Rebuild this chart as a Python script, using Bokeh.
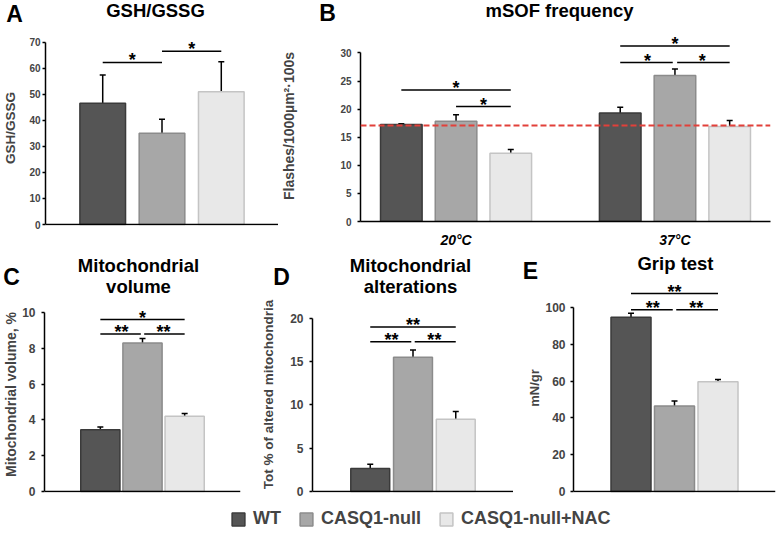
import math
from bokeh.plotting import figure
from bokeh.models import (FactorRange, Range1d, Whisker, TeeHead, Span,
                          Legend, LegendItem, ColumnDataSource, FixedTicker)
from bokeh.layouts import row, column
from bokeh.embed import file_html
from bokeh.resources import INLINE
from bokeh.core.properties import value

FONT = "Liberation Sans"

# ---------------- data ----------------
groups = ["WT", "CASQ1-null", "CASQ1-null+NAC"]
fill_colors = ["#555555", "#a7a7a7", "#e8e8e8"]
edge_colors = ["#3a3a3a", "#8b8b8b", "#c4c4c4"]

# A
gsh_letter = "A"
gsh_title = ["GSH/GSSG"]
gsh_ylabel = "GSH/GSSG"
gsh_mean = [46.6, 35.1, 51.0]
gsh_err = [10.9, 5.4, 11.6]
gsh_ticks = [0, 10, 20, 30, 40, 50, 60, 70]
gsh_sig = [("WT", "CASQ1-null", 62.3, "*"),
           ("CASQ1-null", "CASQ1-null+NAC", 66.6, "*")]

# B
msof_letter = "B"
msof_title = ["mSOF frequency"]
msof_ylabel = "Flashes/1000µm²·100s"
temps = ["20°C", "37°C"]
msof_20_mean = [17.25, 17.85, 12.15]
msof_20_err = [0.15, 1.15, 0.65]
msof_37_mean = [19.3, 26.0, 16.9]
msof_37_err = [1.05, 1.15, 1.1]
msof_ticks = [0, 5, 10, 15, 20, 25, 30]
msof_reference = 17.1
msof_sig = [("20°C", "WT", "CASQ1-null+NAC", 23.4, "*"),
            ("20°C", "CASQ1-null", "CASQ1-null+NAC", 20.45, "*"),
            ("37°C", "WT", "CASQ1-null+NAC", 31.25, "*"),
            ("37°C", "WT", "CASQ1-null", 28.3, "*"),
            ("37°C", "CASQ1-null", "CASQ1-null+NAC", 28.3, "*")]

# C
vol_letter = "C"
vol_title = ["Mitochondrial", "volume"]
vol_ylabel = "Mitochondrial volume, %"
vol_mean = [3.45, 8.3, 4.2]
vol_err = [0.15, 0.25, 0.15]
vol_ticks = [0, 2, 4, 6, 8, 10]
vol_sig = [("WT", "CASQ1-null+NAC", 9.6, "*"),
           ("WT", "CASQ1-null", 8.8, "**"),
           ("CASQ1-null", "CASQ1-null+NAC", 8.8, "**")]

# D
alt_letter = "D"
alt_title = ["Mitochondrial", "alterations"]
alt_ylabel = "Tot % of altered mitochondria"
alt_mean = [2.65, 15.5, 8.35]
alt_err = [0.5, 0.85, 0.9]
alt_ticks = [0, 5, 10, 15, 20]
alt_sig = [("WT", "CASQ1-null+NAC", 19.0, "**"),
           ("WT", "CASQ1-null", 17.3, "**"),
           ("CASQ1-null", "CASQ1-null+NAC", 17.3, "**")]

# E
grip_letter = "E"
grip_title = ["Grip test"]
grip_ylabel = "mN/gr"
grip_mean = [94.6, 46.5, 59.6]
grip_err = [2.2, 2.7, 1.3]
grip_ticks = [0, 20, 40, 60, 80, 100]
grip_sig = [("WT", "CASQ1-null+NAC", 107.5, "**"),
            ("WT", "CASQ1-null", 98.7, "**"),
            ("CASQ1-null", "CASQ1-null+NAC", 98.7, "**")]

# dodge of each genotype inside a temperature group (panel B)
B_DODGE = 0.25


# ---------------- helpers ----------------
def make_fig(width, height, borders, x_range, y_end, plain_x=True):
    left, right, top, bottom = borders
    frame_h = height - top - bottom
    # one pixel below zero so that the baseline is not clipped
    y_start = -y_end / frame_h if plain_x else 0
    kw = dict(x_axis_location=None) if plain_x else {}
    p = figure(width=width, height=height, x_range=x_range,
               y_range=Range1d(y_start, y_end), output_backend="svg",
               toolbar_location=None, min_border_left=left,
               min_border_right=right, min_border_top=top,
               min_border_bottom=bottom, **kw)
    p.outline_line_color = None
    p.xgrid.visible = False
    p.ygrid.visible = False
    p.background_fill_color = "white"
    p.border_fill_color = "white"
    if plain_x:
        # bare x axis line (the figure shows no category labels)
        p.add_layout(Span(location=0, dimension="width", line_color="black",
                          line_width=1.5))
    return p


def style_yaxis(p, ticks, ylabel, tick_size, label_size, tick_standoff,
                label_standoff):
    ya = p.yaxis[0]
    ya.ticker = FixedTicker(ticks=ticks)
    ya.bounds = (ticks[0], ticks[-1])
    ya.axis_label = ylabel
    ya.axis_label_text_font = FONT
    ya.axis_label_text_font_style = "bold"
    ya.axis_label_text_font_size = label_size
    ya.axis_label_standoff = label_standoff
    ya.major_label_text_font = FONT
    ya.major_label_text_font_style = "bold"
    ya.major_label_text_font_size = tick_size
    ya.major_label_standoff = tick_standoff
    ya.major_tick_out = 3
    ya.major_tick_in = 0
    ya.minor_tick_line_color = None
    ya.axis_line_width = 1.5
    ya.major_tick_line_width = 1.5
    ya.axis_line_color = "black"


def draw_bars(p, xs, means, errs, width, fills, edges):
    src = ColumnDataSource(dict(
        x=xs, top=means, upper=[m + e for m, e in zip(means, errs)],
        fill=fills, edge=edges))
    p.vbar(x="x", top="top", bottom=0, width=width, source=src,
           fill_color="fill", line_color="edge", line_width=1.5)
    p.add_layout(Whisker(source=src, base="x", upper="upper", lower="top",
                         line_width=1.5, line_color="black", lower_head=None,
                         upper_head=TeeHead(size=6, line_width=1.5,
                                            line_color="black")))


def simple_coord(idx):
    k = min(int(round(idx)), len(groups) - 1)
    return (groups[k], idx - k)


def temp_coord(temp):
    return lambda idx: (temp, (idx - 1) * B_DODGE)


def draw_sig(p, entries, trim=0.04):
    # entries: (coord_fn, key, g0, g1, level, label)
    x0s, x1s, ys, tx, tt = [], [], [], [], []
    for fn, key, g0, g1, lvl, lab in entries:
        i0, i1 = groups.index(g0), groups.index(g1)
        t0 = any(o[1] == key and o[3] == g0 and o[4] == lvl for o in entries)
        t1 = any(o[1] == key and o[2] == g1 and o[4] == lvl for o in entries)
        x0s.append(fn(i0 + (trim if t0 else 0.0)))
        x1s.append(fn(i1 - (trim if t1 else 0.0)))
        ys.append(lvl)
        tx.append(fn((i0 + i1) / 2))
        tt.append(lab)
    p.segment(x0=x0s, y0=ys, x1=x1s, y1=ys, line_color="black",
              line_width=1.5)
    p.text(x=tx, y=ys, text=tt, text_font=value(FONT),
           text_font_style="bold", text_font_size="18px",
           text_align="center", text_baseline="alphabetic", y_offset=-2,
           text_color="black")


def make_header(width, height, letter, letter_pos, titles, title_x,
                title_y0, line_gap):
    h = figure(width=width, height=height, x_range=Range1d(0, width),
               y_range=Range1d(height, 0), output_backend="svg",
               toolbar_location=None, min_border=0, x_axis_location=None,
               y_axis_location=None)
    h.outline_line_color = None
    h.xgrid.visible = False
    h.ygrid.visible = False
    h.text(x=[letter_pos[0]], y=[letter_pos[1]], text=[letter],
           text_font=value(FONT), text_font_style="bold",
           text_font_size="23px", text_align="center",
           text_baseline="alphabetic", text_color="black")
    h.text(x=[title_x] * len(titles),
           y=[title_y0 + k * line_gap for k in range(len(titles))],
           text=titles, text_font=value(FONT), text_font_style="bold",
           text_font_size="18.5px", text_align="center",
           text_baseline="alphabetic", text_color="black")
    return h


# ---------------- panel A ----------------
hA = make_header(278, 26, gsh_letter, (14, 13), gsh_title, 155, 10, 0)
pA = make_fig(278, 224, (42, 0, 4, 25),
              FactorRange(factors=groups, range_padding=0.31,
                          range_padding_units="percent"), 74.6)
style_yaxis(pA, gsh_ticks, gsh_ylabel, "10px", "13.5px", 2, 8)
draw_bars(pA, groups, gsh_mean, gsh_err, 0.77, fill_colors, edge_colors)
draw_sig(pA, [(simple_coord, "A") + s for s in gsh_sig])

# ---------------- panel B ----------------
hB = make_header(498, 26, msof_letter, (49, 12), msof_title, 281, 10, 0)
pB = make_fig(498, 224, (79, 6, 4, 25),
              FactorRange(factors=temps, range_padding=-0.0635,
                          range_padding_units="percent"), 34.0,
              plain_x=False)
style_yaxis(pB, msof_ticks, msof_ylabel, "10px", "14px", 6, 40)
xb = pB.xaxis[0]
xb.major_tick_line_color = None
xb.minor_tick_line_color = None
xb.major_label_text_font = FONT
xb.major_label_text_font_style = "bold italic"
xb.major_label_text_font_size = "14px"
xb.major_label_text_color = "black"
xb.major_label_standoff = 4
xb.axis_line_width = 1.5
xb.axis_line_color = "black"
pB.add_layout(Span(location=msof_reference, dimension="width",
                   line_color="#e2403a", line_dash="6 3", line_width=2))
b_x = [temp_coord(t)(i) for t in temps for i in range(len(groups))]
draw_bars(pB, b_x, msof_20_mean + msof_37_mean, msof_20_err + msof_37_err,
          0.19, fill_colors * 2, edge_colors * 2)
draw_sig(pB, [(temp_coord(s[0]), s[0]) + s[1:] for s in msof_sig])

# ---------------- panel C ----------------
hC = make_header(255, 46, vol_letter, (11, 26), vol_title, 138, 15, 21)
pC = make_fig(255, 204, (39, 15, 0, 8),
              FactorRange(factors=groups, range_padding=0.55,
                          range_padding_units="percent"), 10.89)
style_yaxis(pC, vol_ticks, vol_ylabel, "12px", "14px", 6, 0)
draw_bars(pC, groups, vol_mean, vol_err, 0.93, fill_colors, edge_colors)
draw_sig(pC, [(simple_coord, "C") + s for s in vol_sig])

# ---------------- panel D ----------------
hD = make_header(258, 46, alt_letter, (26, 26), alt_title, 155, 15, 21)
pD = make_fig(258, 204, (57, 0, 0, 8),
              FactorRange(factors=groups, range_padding=0.567,
                          range_padding_units="percent"), 22.53)
style_yaxis(pD, alt_ticks, alt_ylabel, "12px", "13.5px", 6, 11)
draw_bars(pD, groups, alt_mean, alt_err, 0.91, fill_colors, edge_colors)
draw_sig(pD, [(simple_coord, "D") + s for s in alt_sig])

# ---------------- panel E ----------------
hE = make_header(263, 33, grip_letter, (17, 20), grip_title, 162, 13, 0)
pE = make_fig(263, 217, (60, 1, 0, 8),
              FactorRange(factors=groups, range_padding=0.548,
                          range_padding_units="percent"), 113.0)
style_yaxis(pE, grip_ticks, grip_ylabel, "12px", "13px", 5, 0)
draw_bars(pE, groups, grip_mean, grip_err, 0.92, fill_colors, edge_colors)
draw_sig(pE, [(simple_coord, "E") + s for s in grip_sig])

# ---------------- legend ----------------
pL = figure(width=776, height=34, output_backend="svg", toolbar_location=None,
            min_border=0, x_range=FactorRange(factors=groups),
            y_range=Range1d(0, 1), x_axis_location=None,
            y_axis_location=None)
pL.xgrid.visible = False
pL.ygrid.visible = False
pL.outline_line_color = None
leg_src = ColumnDataSource(dict(x=groups, top=gsh_mean, fill=fill_colors,
                                edge=edge_colors))
r_leg = pL.vbar(x="x", top="top", width=0.5, source=leg_src,
                fill_color="fill", line_color="edge", line_width=1.5)
r_leg.visible = False
items = [LegendItem(label=g, renderers=[r_leg], index=i)
         for i, g in enumerate(groups)]
leg = Legend(items=items, orientation="horizontal", location=(230, 5),
             label_text_font=FONT, label_text_font_style="bold",
             label_text_font_size="18px", glyph_width=16, glyph_height=16,
             label_standoff=7, spacing=17, padding=0, margin=0,
             border_line_color=None, background_fill_alpha=0,
             inactive_fill_alpha=0)
pL.add_layout(leg)

layout = column(
    row(column(hA, row(pA)), column(hB, row(pB))),
    row(column(hC, row(pC)), column(hD, row(pD)), column(hE, row(pE))),
    pL)
open("out.html", "w").write(file_html(layout, INLINE))
